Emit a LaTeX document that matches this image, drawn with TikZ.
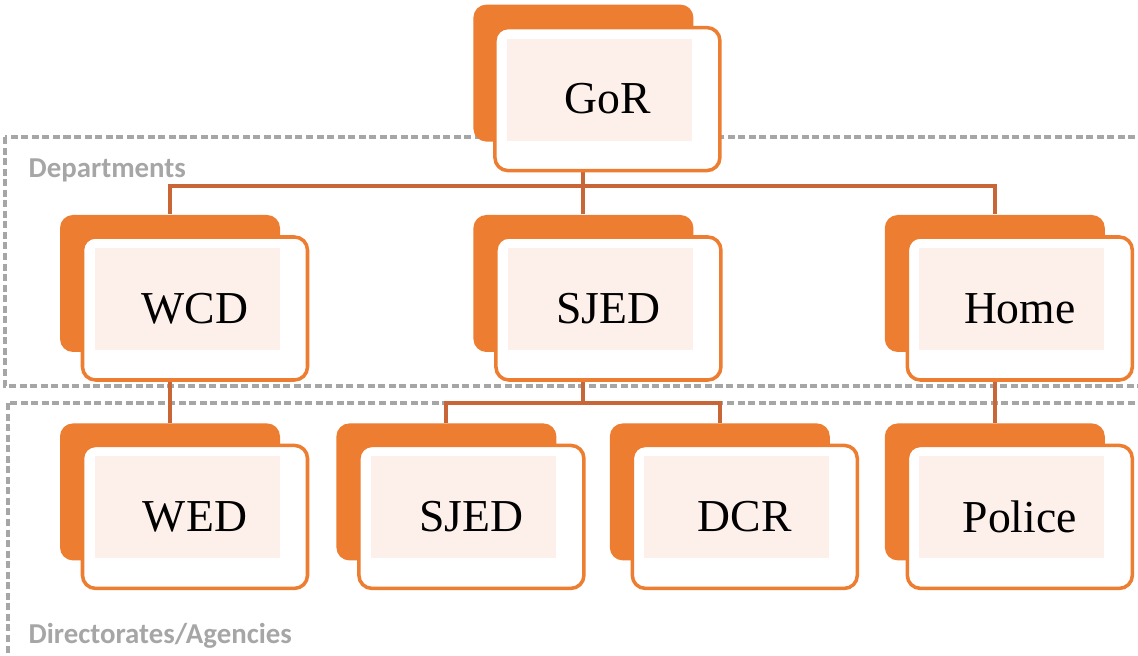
\documentclass[tikz,border=0pt]{standalone}
\usepackage{fontspec}
\setmainfont{Liberation Serif}
\newfontfamily\zonefont{Carlito}
\usetikzlibrary{positioning, calc}

\definecolor{orangefill}{RGB}{237,125,49}
\definecolor{orangelink}{RGB}{200,102,56}
\definecolor{pinkfill}{RGB}{253,240,234}
\definecolor{zonegray}{RGB}{166,166,166}

\begin{document}
\begin{tikzpicture}[node distance=1.9cm,
                    back/.style={rectangle, fill=orangefill, rounded corners=0.13cm, minimum width=2.2cm, minimum height=1.37cm, inner sep=0pt},
                    front/.style={rectangle, draw=orangefill, line width=1pt, fill=white, rounded corners=0.13cm, minimum width=2.25cm, minimum height=1.43cm, font=\fontsize{13}{15}\selectfont,
                                  path picture={\fill[pinkfill, sharp corners] ([shift={(0.12,-0.11)}]path picture bounding box.north west) rectangle ([shift={(-0.28,0.30)}]path picture bounding box.south east);}},
                    link/.style={draw=orangelink, line width=1.1pt},
                    zone/.style={draw=zonegray, line width=0.9pt, dash pattern=on 2pt off 1pt},
                    zonelabel/.style={text=zonegray, font=\zonefont\bfseries\fontsize{8.2}{10}\selectfont, anchor=west, inner sep=0pt}]

    \useasboundingbox (0,0) rectangle (11.38,-6.56);

    % Zones
    \draw[zone] (0.05,-1.37) rectangle (11.7,-3.86);
    \draw[zone] (0.08,-4.03) rectangle (11.7,-6.9);
    \node[zonelabel] (deptlabel) at (0.28,-1.70) {Departments};
    \node[zonelabel] (agencylabel) at (0.28,-6.36) {Directorates/Agencies};

    % Back boxes
    \node[back] (wcdb) at (1.70,-2.835) {};
    \node[back, right=1.92cm of wcdb] (sjedb) {};
    \node[back, right=1.9cm of sjedb] (homeb) {};
    \node[back, above=0.72cm of sjedb] (gorb) {};
    \node[back, below=0.7cm of wcdb] (wedb) {};
    \node[back, right=0.55cm of wedb] (sjeddb) {};
    \node[back, right=0.52cm of sjeddb] (dcrb) {};
    \node[back, below=0.7cm of homeb] (policeb) {};

    % Paths
    \draw[link] (gorb.south) -- ++(0,-0.44) coordinate (bus) -| (wcdb.north);
    \draw[link] (bus) -| (homeb.north);
    \draw[link] (gorb.south) -- (sjedb.north);
    \draw[link] (wcdb.south) -- (wedb.north);
    \draw[link] (sjedb.south) -- ++(0,-0.5) coordinate (subbus) -| (sjeddb.north);
    \draw[link] (subbus) -| (dcrb.north);
    \draw[link] (homeb.south) -- (policeb.north);

    % Front boxes
    \node[front] (gor) at ([shift={(0.24,-0.26)}]gorb.center) {GoR};
    \node[front] (wcd) at ([shift={(0.25,-0.25)}]wcdb.center) {WCD};
    \node[front] (sjed) at ([shift={(0.25,-0.25)}]sjedb.center) {SJED};
    \node[front] (home) at ([shift={(0.25,-0.25)}]homeb.center) {Home};
    \node[front] (wed) at ([shift={(0.25,-0.25)}]wedb.center) {WED};
    \node[front] (sjedd) at ([shift={(0.25,-0.25)}]sjeddb.center) {SJED};
    \node[front] (dcr) at ([shift={(0.25,-0.25)}]dcrb.center) {DCR};
    \node[front] (police) at ([shift={(0.25,-0.25)}]policeb.center) {Police};

\end{tikzpicture}
\end{document}
